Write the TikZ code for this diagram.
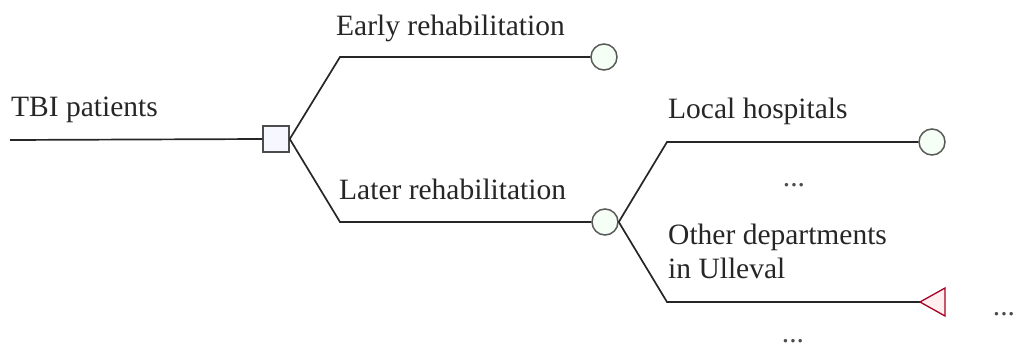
\documentclass[tikz,border=0pt]{standalone}
\usepackage{fontspec}
\setmainfont{Liberation Serif}
\begin{document}
\begin{tikzpicture}[x=1pt,y=-1pt,
  branch/.style={draw=black!85, line width=1.7pt},
  lbl/.style={anchor=base west, inner sep=0pt, font=\fontsize{29.5}{34}\selectfont, text=black!85},
  dotlbl/.style={anchor=base, inner sep=0pt, font=\fontsize{29.5}{34}\selectfont, text=black!70},
  decbox/.style={draw=black!70, fill=blue!3, line width=1.5pt, minimum size=26pt, inner sep=0pt},
  chancenode/.style={circle, draw=black!65, fill=green!4, line width=1.5pt, minimum size=26pt, inner sep=0pt},
  termcolor/.style={draw=purple!70!red!80!black, fill=pink!25, line width=1.3pt}
]
\useasboundingbox (0,0) rectangle (1019,348);
% nodes
\coordinate (start) at (10,140);
\node[decbox] (dec) at (276,139) {};
\coordinate (bE) at (340,57);
\coordinate (bL) at (340,222);
\node[chancenode] (early) at (604,57) {};
\node[chancenode] (later) at (605,222) {};
\coordinate (bH) at (667,142);
\coordinate (bO) at (667,302);
\node[chancenode] (local) at (932,142) {};
\coordinate (tri) at (920,302);
% connectors
\draw[branch] (start) -- (dec.west);
\draw[branch] (dec.east) -- (bE) -- (early.west);
\draw[branch] (dec.east) -- (bL) -- (later.west);
\draw[branch] (later.east) -- (bH) -- (local.west);
\draw[branch] (later.east) -- (bO) -- (tri);
\draw[termcolor] (tri) -- (945,288) -- (945,316) -- cycle;
% labels
\node[lbl] (tTBI) at (11,116) {TBI patients};
\node[lbl] (tE) at (336,35) {Early rehabilitation};
\node[lbl] (tL) at (339,199) {Later rehabilitation};
\node[lbl] (tH) at (668,118) {Local hospitals};
\node[lbl] (tO) at (668,244) {Other departments};
\node[lbl] (tU) at (668,278) {in Ulleval};
\node[dotlbl] (d1) at (794,186) {...};
\node[dotlbl] (d2) at (793,342) {...};
\node[dotlbl] (d3) at (1004,315) {...};
\end{tikzpicture}
\end{document}
